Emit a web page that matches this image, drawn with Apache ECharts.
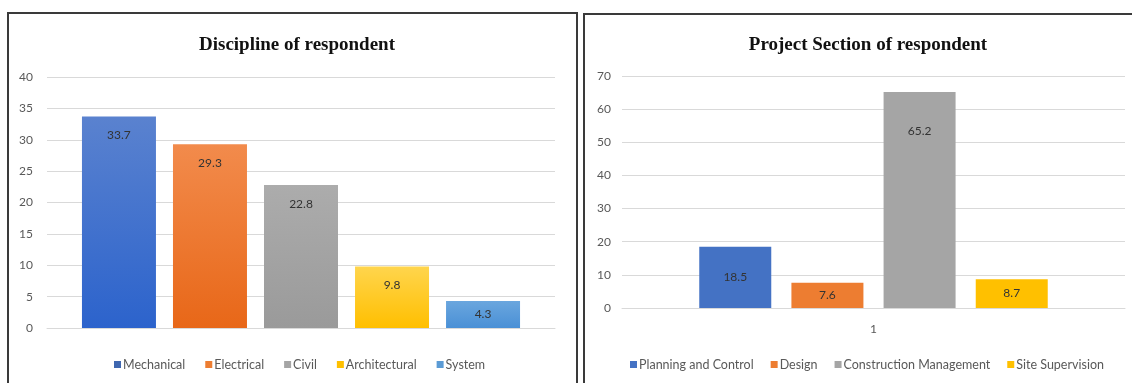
<!DOCTYPE html>
<html>
<head>
<meta charset="utf-8">
<script src="https://cdn.jsdelivr.net/npm/echarts@6/dist/echarts.min.js"></script>
<style>
  html, body { margin: 0; padding: 0; background: #fff; }
  #chart { position: absolute; left: 0; top: 0; width: 1132px; height: 383px; }
  .frame { position: absolute; border: 2px solid #3a3a3a; pointer-events: none; }
</style>
</head>
<body>
<div id="chart"></div>
<div class="frame" style="left:7px; top:12px; width:567px; height:400px;"></div>
<div class="frame" style="left:583px; top:13px; width:560px; height:400px;"></div>
<script>
// left chart: discipline
const disciplineNames = ['Mechanical', 'Electrical', 'Civil', 'Architectural', 'System'];
const disciplineValues = [33.7, 29.3, 22.8, 9.8, 4.3];
const disciplineTicks = { min: 0, max: 40, interval: 5 };

// right chart: project section
const sectionNames = ['Planning and Control', 'Design', 'Construction Management', 'Site Supervision'];
const sectionValues = [18.5, 7.6, 65.2, 8.7];
const sectionTicks = { min: 0, max: 70, interval: 10 };

const categoryLabels = ['1'];

const gradient = (top, bottom) => new echarts.graphic.LinearGradient(0, 0, 0, 1, [
  { offset: 0, color: top },
  { offset: 1, color: bottom },
]);

const disciplineColors = [
  gradient('#5a82cf', '#2c63cc'),
  gradient('#f28b4c', '#e86718'),
  gradient('#acacac', '#9a9a9a'),
  gradient('#ffd54d', '#ffbf00'),
  gradient('#6aa6de', '#4a90d6'),
];
const disciplineLegendColors = ['#3f67b0', '#ed7d31', '#a5a5a5', '#ffc000', '#5b9bd5'];
const sectionColors = ['#4472c4', '#ed7d31', '#a5a5a5', '#ffc000'];

const textFont = 'Lato';
const gridLine = { lineStyle: { color: '#d9d9d9', width: 1 } };

const chart = echarts.init(document.getElementById('chart'));

const series = [];
disciplineNames.forEach((name, i) => {
  series.push({
    name,
    type: 'bar',
    xAxisIndex: 0,
    yAxisIndex: 0,
    barWidth: 74,
    barGap: '23%',
    data: [disciplineValues[i]],
    itemStyle: { color: disciplineColors[i] },
    label: {
      show: true,
      position: i === 4 ? 'inside' : 'insideTop',
      distance: 13,
      color: '#333',
      fontFamily: textFont,
      fontSize: 12,
    },
  });
});
sectionNames.forEach((name, i) => {
  series.push({
    name,
    type: 'bar',
    xAxisIndex: 1,
    yAxisIndex: 1,
    barWidth: 72,
    barGap: '28%',
    data: [sectionValues[i]],
    itemStyle: { color: sectionColors[i] },
    label: {
      show: true,
      position: i === 2 ? 'insideTop' : 'inside',
      distance: 33,
      color: '#333',
      fontFamily: textFont,
      fontSize: 12,
    },
  });
});

const legendBase = {
  top: 353,
  width: 540,
  orient: 'horizontal',
  itemWidth: 7,
  itemHeight: 7,
  icon: 'rect',
  textStyle: { fontFamily: textFont, fontSize: 12.5, color: '#595959', padding: [0, 0, 0, -3] },
};

const option = {
  backgroundColor: '#fff',
  animation: false,
  color: disciplineLegendColors.concat(sectionColors),
  title: [
    {
      text: 'Discipline of respondent',
      left: 292,
      top: 31,
      textAlign: 'center',
      textStyle: { fontFamily: 'Liberation Serif', fontWeight: 'bold', fontSize: 19, color: '#111' },
    },
    {
      text: 'Project Section of respondent',
      left: 863,
      top: 31,
      textAlign: 'center',
      textStyle: { fontFamily: 'Liberation Serif', fontWeight: 'bold', fontSize: 19, color: '#111' },
    },
  ],
  legend: [
    {
      ...legendBase,
      data: disciplineNames.map((n, i) => ({ name: n, itemStyle: { color: disciplineLegendColors[i] } })),
      left: 109,
      itemGap: 20,
    },
    {
      ...legendBase,
      data: sectionNames,
      left: 625,
      itemGap: 17,
    },
  ],
  grid: [
    { left: 47, top: 77, width: 508, height: 251 },
    { left: 622, top: 76, width: 503, height: 232 },
  ],
  xAxis: [
    {
      type: 'category',
      gridIndex: 0,
      data: categoryLabels,
      axisLine: gridLine,
      axisTick: { show: false },
      axisLabel: { show: false },
    },
    {
      type: 'category',
      gridIndex: 1,
      data: categoryLabels,
      axisLine: gridLine,
      axisTick: { show: false },
      axisLabel: { show: true, margin: 15, fontFamily: textFont, fontSize: 12, color: '#595959' },
    },
  ],
  yAxis: [
    {
      type: 'value',
      gridIndex: 0,
      ...disciplineTicks,
      axisLine: { show: false },
      axisTick: { show: false },
      splitLine: gridLine,
      axisLabel: { margin: 14, fontFamily: textFont, fontSize: 12, color: '#595959' },
    },
    {
      type: 'value',
      gridIndex: 1,
      ...sectionTicks,
      axisLine: { show: false },
      axisTick: { show: false },
      splitLine: gridLine,
      axisLabel: { margin: 11, fontFamily: textFont, fontSize: 12, color: '#595959' },
    },
  ],
  series,
};

chart.setOption(option);
</script>
</body>
</html>
